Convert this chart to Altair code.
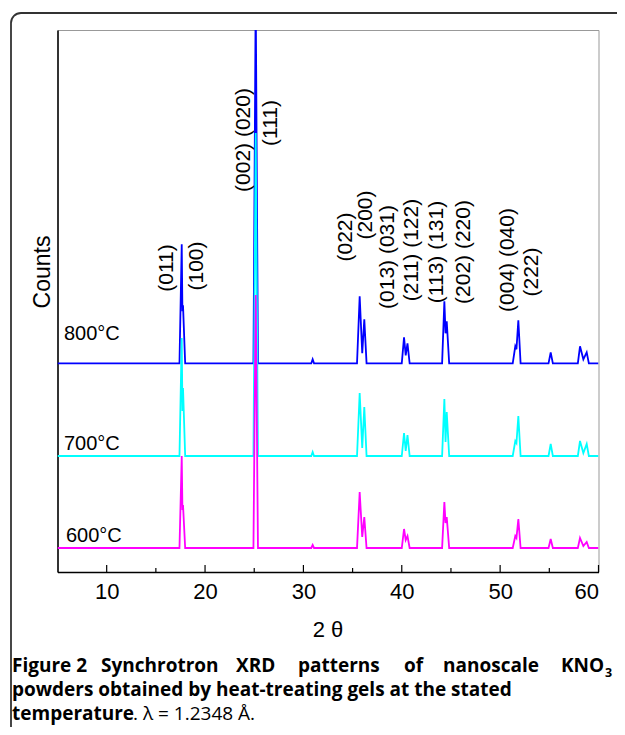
import altair as alt
import pandas as pd

# ---------------- data ----------------
two_theta = [5.0,
             17.40, 17.63, 17.70, 17.76, 17.98,
             24.92, 25.15, 25.38,
             30.80, 30.94, 31.08,
             35.45, 35.72, 35.98, 36.19, 36.42,
             40.00, 40.23, 40.40, 40.58, 40.80,
             44.10, 44.33, 44.45, 44.57, 44.82,
             51.28, 51.54, 51.66, 51.85, 52.08,
             54.92, 55.14, 55.36,
             57.90, 58.12, 58.46, 58.80, 59.02,
             60.0]

counts_800 = [0,
              0, 119, 52, 58, 0,
              0, 370, 0,
              0, 4, 0,
              0, 67, 10, 44, 0,
              0, 26, 8, 20, 0,
              0, 62, 30, 42, 0,
              0, 17, 14, 43, 0,
              0, 11, 0,
              0, 17, 4, 11, 0,
              0]
counts_700 = [0,
              0, 118, 45, 68, 0,
              0, 323, 0,
              0, 4, 0,
              0, 63, 8, 49, 0,
              0, 23, 5, 21, 0,
              0, 57, 14, 44, 0,
              0, 15, 13, 40, 0,
              0, 12, 0,
              0, 15, 3, 12, 0,
              0]
counts_600 = [0,
              0, 92, 38, 43, 0,
              0, 253, 0,
              0, 3, 0,
              0, 56, 11, 31, 0,
              0, 19, 8, 12, 0,
              0, 46, 25, 31, 0,
              0, 12, 10, 29, 0,
              0, 9, 0,
              0, 10, 2, 6, 0,
              0]

series_names = ["800°C", "700°C", "600°C"]
series_offsets = [208.7, 116, 24]
series_colors = ["#0000FF", "#00FFFF", "#FF00FF"]

temp_label_x = [5.66, 5.66, 5.86]
temp_label_y = [232, 122, 30]

hkl_labels = ["(011)", "(100)", "(002) (020)", "(111)", "(022)", "(200)",
              "(013) (031)", "(211) (122)", "(113) (131)", "(202) (220)",
              "(004) (040)", "(222)"]
hkl_x = [16.13, 19.18, 23.96, 26.71, 34.33, 36.36, 38.6, 41.04, 43.58, 46.33, 50.8, 53.24]
hkl_y = [304, 306, 432, 449, 335, 357, 315, 322, 320, 320, 312, 300]

x_major = [10, 20, 30, 40, 50, 60]
x_minor = [15, 25, 35, 45, 55]

# ---------------- tables ----------------
rows = []
for name, counts, off in zip(series_names, [counts_800, counts_700, counts_600], series_offsets):
    for t, c in zip(two_theta, counts):
        rows.append({"series": name, "two_theta": t, "signal": c + off})
df = pd.DataFrame(rows)

temps = pd.DataFrame({"label": series_names, "x": temp_label_x, "y": temp_label_y})
hkl = pd.DataFrame({"label": hkl_labels, "x": hkl_x, "y": hkl_y})
ticks = pd.DataFrame({"t": x_major + x_minor,
                      "y0": [0] * (len(x_major) + len(x_minor)),
                      "y1": [7] * len(x_major) + [4] * len(x_minor)})

W, H = 541, 542
xs = alt.Scale(domain=[5, 60], nice=False, zero=False)
ys = alt.Scale(domain=[0, H], nice=False, zero=False)
xax = alt.Axis(values=x_major, title=None)
yax = alt.Axis(title=None)

FONT = "Liberation Sans"
CAP = "Open Sans"


def X(field):
    return alt.X(field, type="quantitative", scale=xs, axis=xax)


def Y(field):
    return alt.Y(field, type="quantitative", scale=ys, axis=yax)


layers = []
for name, color in zip(series_names, series_colors):
    layers.append(
        alt.Chart(df).transform_filter(alt.datum.series == name)
        .mark_line(color=color, strokeWidth=1.8, clip=True)
        .encode(x=X("two_theta"), y=Y("signal"))
    )

tick_layer = alt.Chart(ticks).mark_rule(color="black", strokeWidth=1.2).encode(
    x=X("t"), y=Y("y0"), y2="y1:Q")

temp_layer = alt.Chart(temps).mark_text(
    font=FONT, fontSize=20, align="left", baseline="alphabetic", color="black"
).encode(x=X("x"), y=Y("y"), text="label:N")

hkl_layer = alt.Chart(hkl).mark_text(
    font=FONT, fontSize=21, angle=270, align="center", baseline="middle", color="black"
).encode(x=X("x"), y=Y("y"), text="label:N")

one = pd.DataFrame({"a": [0]})


def txt(s, x, y, size, weight="normal", font=FONT, angle=0, align="left", baseline="alphabetic"):
    return alt.Chart(one).mark_text(
        text=s, font=font, fontSize=size, fontWeight=weight, angle=angle,
        align=align, baseline=baseline, color="black"
    ).encode(x=alt.value(x), y=alt.value(y))


frame = alt.Chart(one).mark_rect(
    fillOpacity=0, stroke="#333333", strokeWidth=1.8, cornerRadius=10
).encode(x=alt.value(-46.5), x2=alt.value(620), y=alt.value(-17), y2=alt.value(760))

texts = [
    txt("Counts", -14.5, 242, 23, angle=270, align="center", baseline="middle"),
    txt("2 θ", 270.5, 600, 22, align="center", baseline="middle"),
]

# caption line 1 (justified: words placed one by one)
cap1_words = ["Figure 2", "Synchrotron", "XRD", "patterns", "of", "nanoscale", "KNO"]
cap1_x = [-45.5, 43.5, 178.5, 240.5, 346.5, 385.5, 503.5]
for w, x in zip(cap1_words, cap1_x):
    texts.append(txt(w, x, 642, 19, weight="bold", font=CAP))
texts.append(txt("3", 547.5, 647, 12.5, weight="bold", font=CAP))
texts.append(txt("powders obtained by heat-treating gels at the stated", -45.5, 666, 19,
                 weight="bold", font=CAP))
texts.append(txt("temperature", -45.5, 690, 19, weight="bold", font=CAP))
texts.append(txt(". λ = 1.2348 Å.", 75.5, 690, 19, font=CAP))

chart = alt.layer(frame, *layers, tick_layer, temp_layer, hkl_layer, *texts).properties(
    width=W, height=H,
    autosize=alt.AutoSizeParams(type="none"),
    padding={"left": 49.5, "top": 22, "right": 18.5, "bottom": 155},
).configure_view(stroke="#999999", strokeWidth=1).configure_axisX(
    labelFont=FONT, labelFontSize=22, labelColor="black", labelPadding=9,
    ticks=False, grid=False, domainColor="black", domainWidth=1.5,
).configure_axisY(
    labels=False, ticks=False, grid=False, domainColor="black", domainWidth=1.5,
)

chart.save("out.html", embed_options={"renderer": "svg", "actions": False})
